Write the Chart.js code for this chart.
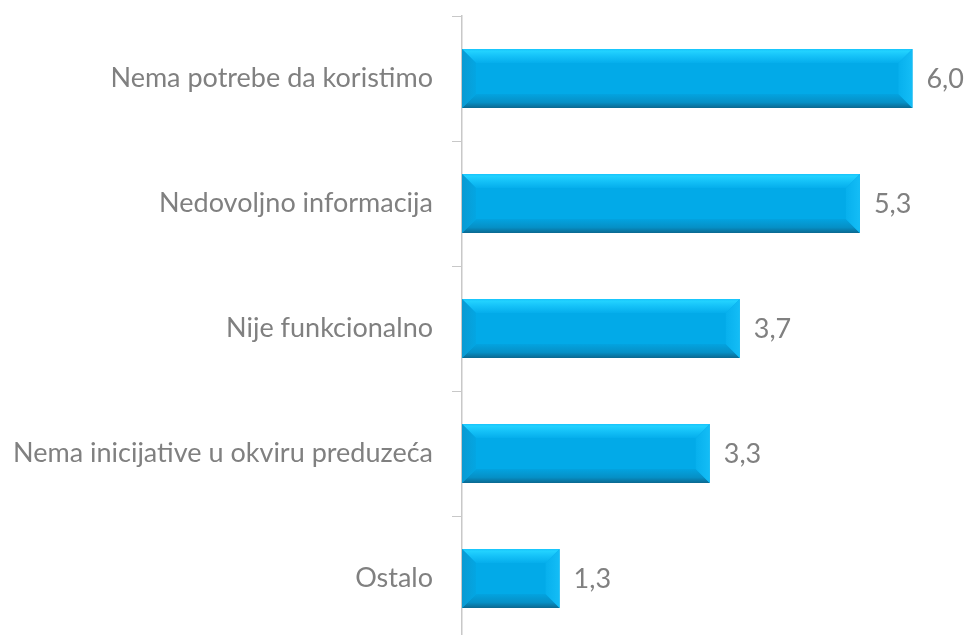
<!DOCTYPE html>
<html><head><meta charset="utf-8">
<script src="https://cdn.jsdelivr.net/npm/chart.js@4"></script>
<style>html,body{margin:0;padding:0;overflow:hidden;background:#fff}#wrap{width:966px;height:645px}</style>
</head><body><div id="wrap"><canvas id="c" width="966" height="645"></canvas></div>
<script>
const categories = ["Nema potrebe da koristimo","Nedovoljno informacija","Nije funkcionalno","Nema inicijative u okviru preduzeća","Ostalo"];
const values = [6.0, 5.3, 3.7, 3.3, 1.3];
const valueLabels = ["6,0","5,3","3,7","3,3","1,3"];

const FONT = "Lato";
const FSIZE = 27;
const bevelPlugin = {
  id:'bevel',
  afterDatasetsDraw(chart){
    const ctx = chart.ctx;
    const meta = chart.getDatasetMeta(0);
    meta.data.forEach((bar,i)=>{
      const x0 = Math.min(bar.base, bar.x), x1 = Math.max(bar.base, bar.x);
      const y0 = bar.y - bar.height/2, y1 = bar.y + bar.height/2;
      const b = Math.min(14, (x1-x0)/2, (y1-y0)/2);
      ctx.save();
      ctx.fillStyle = '#02aae8';
      ctx.fillRect(x0,y0,x1-x0,y1-y0);
      // top bevel
      let g = ctx.createLinearGradient(0,y0,0,y0+b);
      g.addColorStop(0,'#16c3fb'); g.addColorStop(0.15,'#22d2ff'); g.addColorStop(0.5,'#15c2f8'); g.addColorStop(1,'#05aeec');
      ctx.fillStyle=g; ctx.beginPath(); ctx.moveTo(x0,y0); ctx.lineTo(x1,y0); ctx.lineTo(x1-b,y0+b); ctx.lineTo(x0+b,y0+b); ctx.closePath(); ctx.fill();
      // bottom bevel
      g = ctx.createLinearGradient(0,y1-b,0,y1);
      g.addColorStop(0,'#03a3e0'); g.addColorStop(0.6,'#0690c6'); g.addColorStop(1,'#0b6890');
      ctx.fillStyle=g; ctx.beginPath(); ctx.moveTo(x0,y1); ctx.lineTo(x1,y1); ctx.lineTo(x1-b,y1-b); ctx.lineTo(x0+b,y1-b); ctx.closePath(); ctx.fill();
      // left bevel
      g = ctx.createLinearGradient(x0,0,x0+b,0);
      g.addColorStop(0,'#0a9ad2'); g.addColorStop(1,'#03a6e3');
      ctx.fillStyle=g; ctx.beginPath(); ctx.moveTo(x0,y0); ctx.lineTo(x0+b,y0+b); ctx.lineTo(x0+b,y1-b); ctx.lineTo(x0,y1); ctx.closePath(); ctx.fill();
      // right bevel
      g = ctx.createLinearGradient(x1-b,0,x1,0);
      g.addColorStop(0,'#07b0ed'); g.addColorStop(1,'#14bdf6');
      ctx.fillStyle=g; ctx.beginPath(); ctx.moveTo(x1,y0); ctx.lineTo(x1-b,y0+b); ctx.lineTo(x1-b,y1-b); ctx.lineTo(x1,y1); ctx.closePath(); ctx.fill();
      // value label
      ctx.fillStyle='#808080';
      ctx.font = FSIZE + 'px ' + FONT;
      ctx.textAlign='left'; ctx.textBaseline='middle';
      ctx.fillText(valueLabels[i], x1+14, bar.y+1);
      ctx.restore();
    });
  }
};

new Chart(document.getElementById('c'),{
  type:'bar',
  data:{labels:categories,datasets:[{data:values,backgroundColor:'rgba(0,0,0,0)',barThickness:59}]},
  options:{
    indexAxis:'y',responsive:false,animation:false,
    layout:{padding:{top:16,bottom:4,right:16,left:0}},
    plugins:{legend:{display:false},tooltip:{enabled:false}},
    scales:{
      x:{display:false,min:0,max:6.5},
      y:{
        grid:{display:true,drawOnChartArea:false,drawTicks:true,tickLength:10,color:'#c8c8c8',offset:true},
        border:{display:true,color:'#c8c8c8',width:1.5},
        ticks:{color:'#808080',font:{family:FONT,size:FSIZE},padding:19},
        afterFit(s){s.width=462; s.paddingTop=0; s.paddingBottom=0;}
      }
    }
  },
  plugins:[bevelPlugin]
});
</script></body></html>
